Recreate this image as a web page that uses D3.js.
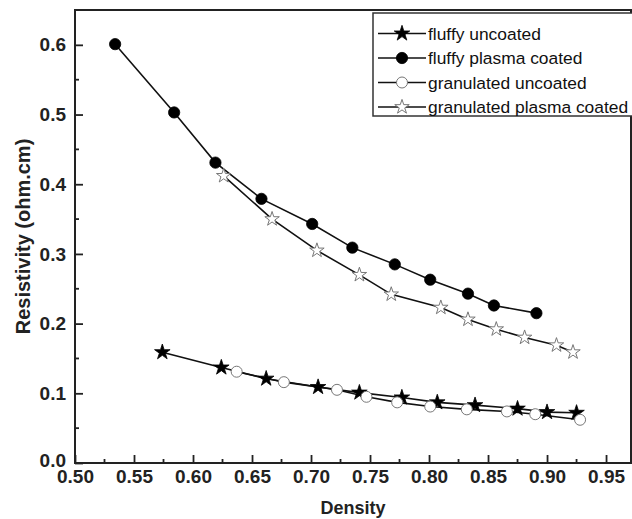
<!DOCTYPE html>
<html>
<head>
<meta charset="utf-8">
<script src="https://cdn.jsdelivr.net/npm/d3@7"></script>
<style>
  body { margin: 0; background: #fff; }
  svg { display: block; font-family: "Liberation Sans", Arial, sans-serif; }
</style>
</head>
<body>
<svg width="632" height="519"></svg>
<script>
// Series data (density, resistivity)
const fluffyUncoatedX = [0.574, 0.624, 0.662, 0.706, 0.741, 0.777, 0.807, 0.839, 0.875, 0.900, 0.925];
const fluffyUncoatedY = [0.159, 0.137, 0.121, 0.109, 0.101, 0.094, 0.087, 0.083, 0.078, 0.073, 0.072];

const fluffyCoatedX = [0.534, 0.584, 0.619, 0.658, 0.701, 0.735, 0.771, 0.801, 0.833, 0.855, 0.891];
const fluffyCoatedY = [0.601, 0.503, 0.431, 0.379, 0.343, 0.309, 0.285, 0.263, 0.243, 0.226, 0.215];

const granUncoatedX = [0.637, 0.677, 0.722, 0.747, 0.773, 0.801, 0.832, 0.866, 0.890, 0.928];
const granUncoatedY = [0.131, 0.116, 0.105, 0.095, 0.087, 0.081, 0.077, 0.074, 0.070, 0.062];

const granCoatedX = [0.626, 0.667, 0.705, 0.741, 0.768, 0.810, 0.833, 0.857, 0.881, 0.908, 0.922];
const granCoatedY = [0.412, 0.350, 0.305, 0.270, 0.242, 0.223, 0.206, 0.192, 0.180, 0.169, 0.159];

const seriesNames = ["fluffy uncoated", "fluffy plasma coated", "granulated uncoated", "granulated plasma coated"];
const xTicks = [0.50, 0.55, 0.60, 0.65, 0.70, 0.75, 0.80, 0.85, 0.90, 0.95];
const yTicks = [0.0, 0.1, 0.2, 0.3, 0.4, 0.5, 0.6];

const svg = d3.select('svg');
const mLeft = 75, mRight = 632, mTop = 10, mBottom = 463;

const x = d3.scaleLinear().domain([0.5, 0.972]).range([mLeft, mRight]);
const y = d3.scaleLinear().domain([0, 0.65]).range([mBottom, mTop]);

const series = [
    { name: seriesNames[0], xs: fluffyUncoatedX, ys: fluffyUncoatedY, shape: 'star', filled: true },
    { name: seriesNames[1], xs: fluffyCoatedX, ys: fluffyCoatedY, shape: 'circle', filled: true },
    { name: seriesNames[2], xs: granUncoatedX, ys: granUncoatedY, shape: 'circle', filled: false },
    { name: seriesNames[3], xs: granCoatedX, ys: granCoatedY, shape: 'star', filled: false }
];

function marker(sel, s) {
    const sym = s.shape === 'star'
        ? d3.symbol().type(d3.symbolStar).size(s.filled ? 75 : 65)
        : d3.symbol().type(d3.symbolCircle).size(s.filled ? 100 : 95);
    sel.attr('d', sym())
        .attr('fill', s.filled ? '#000' : '#fff')
        .attr('stroke', s.filled ? '#000' : '#777')
        .attr('stroke-width', s.filled ? 0.8 : 1);
}

// minor ticks
const xMinor = d3.range(0.525, 0.95, 0.05);
const yMinor = d3.range(0.05, 0.65, 0.1);

// axes: inward ticks
const xAxis = d3.axisBottom(x).tickValues(xTicks).tickFormat(d3.format('.2f')).tickSizeInner(-8).tickSizeOuter(0).tickPadding(7);
const yAxis = d3.axisLeft(y).tickValues(yTicks).tickFormat(d3.format('.1f')).tickSizeInner(-8).tickSizeOuter(0).tickPadding(9);

const gx = svg.append('g').attr('transform', `translate(0,${mBottom})`).call(xAxis);
const gy = svg.append('g').attr('transform', `translate(${mLeft},0)`).call(yAxis);
[gx, gy].forEach(g => {
    g.select('.domain').remove();
    g.selectAll('line').attr('stroke', '#222').attr('stroke-width', 1.8);
    g.selectAll('text').attr('fill', '#222').style('font-size', '19px').style('font-weight', 'bold')
        .style('font-family', '"Liberation Sans", Arial, sans-serif');
});
// keep "0.0" clear of "0.50"
gy.selectAll('.tick text').filter(d => d === 0).attr('dy', '0.2em');

svg.append('g').selectAll('line').data(xMinor).enter().append('line')
    .attr('x1', d => x(d)).attr('x2', d => x(d))
    .attr('y1', mBottom).attr('y2', mBottom - 4)
    .attr('stroke', '#222').attr('stroke-width', 1.8);
svg.append('g').selectAll('line').data(yMinor).enter().append('line')
    .attr('x1', mLeft).attr('x2', mLeft + 4)
    .attr('y1', d => y(d)).attr('y2', d => y(d))
    .attr('stroke', '#222').attr('stroke-width', 1.8);

// frame
svg.append('rect')
    .attr('x', mLeft).attr('y', mTop)
    .attr('width', mRight - mLeft - 1).attr('height', mBottom - mTop)
    .attr('fill', 'none').attr('stroke', '#222').attr('stroke-width', 2);

// lines + markers
const line = d3.line().x(d => x(d[0])).y(d => y(d[1]));
series.forEach(s => {
    const pts = s.xs.map((v, i) => [v, s.ys[i]]);
    svg.append('path').datum(pts)
        .attr('d', line)
        .attr('fill', 'none').attr('stroke', '#111').attr('stroke-width', 1.6);
});
series.forEach(s => {
    const pts = s.xs.map((v, i) => [v, s.ys[i]]);
    svg.append('g').selectAll('path').data(pts).enter().append('path')
        .attr('transform', d => `translate(${x(d[0])},${y(d[1])})`)
        .call(sel => marker(sel, s));
});

// axis titles
svg.append('text')
    .attr('x', 353).attr('y', 514)
    .attr('text-anchor', 'middle')
    .style('font-size', '18px').style('font-weight', 'bold').attr('fill', '#222')
    .text('Density');
svg.append('text')
    .attr('transform', `translate(30,${(mTop + mBottom) / 2}) rotate(-90)`)
    .attr('text-anchor', 'middle')
    .style('font-size', '20px').style('font-weight', 'bold').attr('fill', '#222')
    .text('Resistivity (ohm.cm)');

// legend
const legend = svg.append('g');
legend.append('rect')
    .attr('x', 373).attr('y', 13).attr('width', 270).attr('height', 103)
    .attr('fill', '#fff').attr('stroke', '#333').attr('stroke-width', 1.5);
series.forEach((s, i) => {
    const ly = 33.5 + i * 24.5;
    legend.append('line')
        .attr('x1', 378).attr('x2', 426).attr('y1', ly).attr('y2', ly)
        .attr('stroke', '#111').attr('stroke-width', 1.6);
    legend.append('path')
        .attr('transform', `translate(402,${ly})`)
        .call(sel => marker(sel, s));
    legend.append('text')
        .attr('x', 428).attr('y', ly + 6)
        .style('font-size', '17.4px').attr('fill', '#111')
        .text(s.name);
});
</script>
</body>
</html>
